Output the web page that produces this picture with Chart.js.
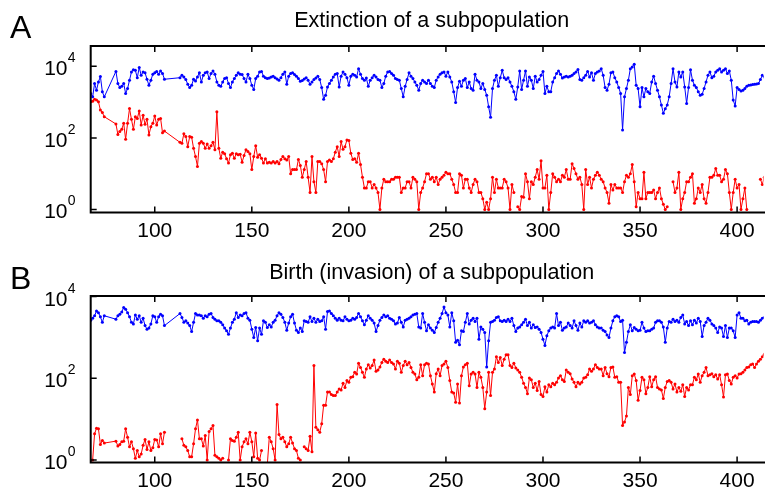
<!DOCTYPE html>
<html lang="en">
<head>
<meta charset="UTF-8">
<title>Extinction and birth of a subpopulation</title>
<style>
  body { margin: 0; background: #fff; }
  #page { position: relative; width: 765px; height: 491px; overflow: hidden;
          font-family: "Liberation Sans", Arial, sans-serif; color: #000; }
  canvas { position: absolute; left: 0; }
  .letter { position: absolute; left: 10px; font-size: 32px; line-height: 1; }
  .title { position: absolute; left: 431.7px; transform: translateX(-50%);
           white-space: nowrap; font-size: 21.5px; line-height: 1; }
</style>
</head>
<body>
<div id="page">
  <canvas id="chartA" width="765" height="245" style="top:0"></canvas>
  <canvas id="chartB" width="765" height="246" style="top:245px"></canvas>
  <div class="letter" style="top:11px">A</div>
  <div class="title" style="top:10px">Extinction of a subpopulation</div>
  <div class="letter" style="top:262px">B</div>
  <div class="title" style="top:262px">Birth (invasion) of a subpopulation</div>
</div>

<script src="https://cdn.jsdelivr.net/npm/chart.js"></script>
<script>
// sampled times come in three runs: 67-74, 80-105, 113-414
const segStart = [67, 80, 113];
const xTicks = [100, 150, 200, 250, 300, 350, 400];
const yTicks = [1, 100, 10000];

// A: extinction -- blue = total, red = subpopulation (null = zero, not drawn on log axis)
const extTotal = [
  [1750, 1400, 3300, 2150, 3650, 5200, 1950, 1400],
  [7200, 3300, 2550, 2750, 3300, 1750, 2400, 4100, 6950, 8000, 7700, 4800, 9300, 5600, 6950, 6600,
   4350, 2950, 4100, 6000, 6650, 7200, 6000, 7400, 6300, 4350],
  [4800, 5600, 5050, 4250, 3150, 2550, 2950, 4350, 3900, 5050,
   6600, 3650, 5600, 6600, 6950, 4550, 6300, 7400, 6000, 3650,
   2950, 2750, 3650, 4550, 4800, 3300, 2550, 3650, 4550, 5600,
   6600, 6000, 5900, 4550, 3650, 6000, 4550, 2950, 2250, 4550,
   5300, 6950, 7200, 5300, 4800, 4550, 4700, 5050, 5300, 4800,
   4450, 4100, 4800, 6000, 6950, 3150, 5300, 6300, 6600, 5900,
   5300, 4550, 3800, 4000, 4450, 4800, 4100, 3150, 3650, 4250,
   4700, 5300, 4250, 2550, 1200, 1550, 2650, 3300, 4100, 5050,
   6000, 6300, 2650, 5300, 6950, 6000, 4800, 2950, 5300, 6000,
   5600, 5050, 8600, 6000, 4550, 4100, 4700, 2750, 4100, 4800,
   5600, 5050, 4250, 4100, 2550, 3300, 5300, 6950, 7200, 6300,
   5600, 4550, 4250, 4100, 2400, 1400, 2750, 4250, 6600, 5300,
   4550, 3650, 2950, 2150, 3300, 4100, 3650, 3300, 4100, 3300,
   2750, 2550, 4100, 5050, 6000, 6600, 6950, 5300, 6950, 5050,
   3650, 1950, 980, 2550, 3800, 2750, 4100, 4550, 2550, 3650,
   2400, 2150, 6000, 4100, 3650, 2400, 3300, 2250, 1550, 740,
   375, 2400, 4100, 5600, 2750, 4800, 7700, 4800, 4250, 4800,
   3650, 2750, 1950, 1200, 2650, 7400, 2250, 4100, 7400, 2750,
   5050, 4100, 2400, 5300, 3650, 4250, 5600, 7200, 1750, 2750,
   1950, 1950, 3650, 4800, 6300, 7400, 6000, 4700, 5050, 5300,
   5050, 5300, 5600, 6300, 6950, 8200, 4250, 4100, 4800, 5600,
   7200, 5050, 6600, 4100, 6300, 6950, 7400, 8600, 5600, 2550,
   2150, 3150, 6600, 6950, 4800, 3650, 2550, 1750, 167, 1400,
   2400, 4100, 8600, 9600, 11500, 2950, 2400, 740, 2550, 1400,
   2400, 1950, 1750, 3650, 5300, 3300, 2150, 1400, 830, 490,
   650, 830, 1400, 3300, 8600, 3650, 2650, 6950, 5050, 6950,
   2650, 920, 2550, 8000, 4100, 2950, 2550, 1950, 1550, 1650,
   2400, 3650, 5600, 6950, 4800, 5300, 6950, 7700, 8600, 6950,
   7700, 8600, 6300, 7400, 4100, 1140, 780, 2550, 2250, 2050,
   2150, 2400, 2750, 2950, 3000, 3100, 3150, 3200, 3300, 4250,
   5600, 5050]
];
const extSub = [
  [1020, 1050, 1200, 1140, 1020, 600, 510, 390],
  [245, 125, 150, 174, 256, 92, 256, 660, 330, 174, 390, 350, 560, 230, 430, 240,
   330, 121, 205, 256, 410, 230, 330, 350, 140, 155],
  [75, 71, 130, 109, 57, 109, 105, 51, 30, 16,
   71, 79, 71, 51, 68, 51, 60, 75, 47, 540,
   51, 27, 40, 36, 26, 20, 34, 37, 27, 36,
   34, 35, 21, 32, 47, 42, 36, 13, 30, 60,
   29, 34, 27, 20, 26, 20, 21, 20, 22, 20,
   22, 19, 25, 30, 26, 24, 30, 10, 13, 13,
   13, 25, 17, 8, 13, 22, 8, 3, 30, 6,
   3, 22, 22, 19, 13, 6, 22, 24, 22, 26,
   40, 57, 30, 79, 48, 57, 88, 84, 37, 25,
   26, 21, 37, 18, 8, 4, 4, 6, 6, 4,
   5, 4, 3, 1, 4, 7, 6, 6, 6, 7,
   7, 8, 8, 8, 3, 4, 4, 6, 6, 4,
   8, 7, 6, 1, 3, 4, 6, 10, 10, 7,
   8, 6, 8, 5, 7, 8, 9, 11, 10, 10,
   7, 5, 3, 3, 10, 9, 4, 7, 7, 4,
   3, 5, 7, 6, 3, 3, 2, 1, 1.6, 1,
   2, 8, 3, 7, 4, 4, 4, 7, 6, 4,
   1, 5, 3, null, 1.2, 1, 2.3, 2.2, 10, 6,
   2, 6, 5, 8, 13, 7, 23, 4, 4, 9,
   1, 3, 10, 8, 6, 7, 6, 9, 8, 13,
   7, 7, 19, 14, 10, 7, 8, 5, 1, 13,
   5, 8, 4, 7, 9, 11, 9, 7, 6, 4,
   3, 1.5, 5, 3.5, 5, 4, 4, 4, 3, 6,
   9, 8, 10, 18, 6, 1.2, 3, 2, 2, 11,
   2, 3, 3, 3, 3.5, 2, 3, 4, 2, 1.4,
   1, 1.2, null, null, 6, 3, 4, 11, 1, 2,
   3, 6, 6, 8, 10, 1.5, 2, 4, 3, 5,
   2, 1.5, 3, 8, 8, 9, 14, 9, 9, 6,
   7, 13, 10, 3, 1, 3, 7, 4, 5, 1,
   2, 4, 1, null, null, null, null, null, null, 7,
   5, 8]
];

// B: birth (invasion)
const birthTotal = [
  [2650, 2950, 3400, 4450, 4050, 3200, 2350, 3400],
  [2800, 3400, 3700, 4200, 5400, 4900, 4050, 3200, 2350, 2150, 3550, 2800, 3400, 2350, 2950, 1950,
   1600, 1700, 2150, 3400, 3200, 2350, 3200, 3700, 3400, 1950],
  [3850, 3100, 2350, 2550, 2250, 1950, 1400, 2350, 3850, 3550,
   3550, 3400, 2950, 3400, 3200, 3700, 3850, 3100, 2800, 2550,
   2550, 2350, 2050, 1700, 1450, 1200, 1700, 2350, 2800, 4050,
   3100, 3550, 3400, 3850, 4050, 2950, 2650, 1600, 1000, 1750,
   830, 1700, 1200, 2550, 2350, 1750, 2050, 1800, 2350, 2650,
   3400, 4050, 3700, 3100, 2350, 1500, 2250, 3200, 3700, 2250,
   1500, 1330, 1700, 1400, 2550, 2450, 2350, 3200, 2450, 2950,
   2350, 2800, 2450, 2550, 3200, 1600, 4300, 4450, 3850, 3400,
   2950, 2650, 2950, 2650, 2550, 3200, 2800, 2550, 2650, 2950,
   2800, 3100, 3850, 3200, 2550, 2050, 2650, 3400, 2950, 2650,
   2250, 1400, 1950, 2650, 3100, 3550, 3200, 3400, 2950, 2800,
   2550, 2150, 2250, 3100, 2350, 1800, 2650, 2800, 2950, 3200,
   3550, 3700, 3850, 1800, 1700, 3850, 2350, 1450, 2050, 1700,
   1500, 1330, 1750, 2350, 2950, 3850, 5600, 4050, 3550, 1800,
   4050, 2550, 760, 860, 660, 1450, 1400, 2350, 3850, 2150,
   2650, 2950, 2450, 2950, 910, 1800, 1600, 1330, 190, 830,
   2350, 2450, 2650, 3100, 3200, 2550, 2450, 2650, 2450, 2800,
   2450, 2950, 1950, 1400, 1700, 1800, 2050, 2350, 2800, 1950,
   2350, 1700, 2050, 1750, 1800, 1600, 1330, 910, 640, 1100,
   1450, 1700, 1800, 1700, 3850, 1950, 2350, 1500, 1700, 1800,
   2250, 1950, 1700, 2550, 1950, 1500, 2250, 1800, 2550, 2350,
   2550, 2250, 2350, 2550, 2050, 1800, 1700, 1700, 1500, 1400,
   1150, 1000, 1700, 2550, 3200, 3400, 3200, 2450, 2650, 430,
   760, 1400, 2050, 1450, 1750, 1600, 1450, 1500, 2350, 1700,
   1400, 1450, 1450, 1600, 1700, 2350, 2550, 2550, 2350, 1800,
   760, 1700, 2450, 2350, 2800, 2450, 2650, 2350, 3100, 3550,
   2150, 2450, 1950, 2550, 2050, 2650, 2250, 2950, 2450, 1050,
   1950, 2350, 2950, 2650, 2150, 1950, 1700, 1330, 1800, 1700,
   1050, 1950, 1000, 1700, 1700, 1450, 1000, 3550, 4050, 2950,
   2950, 2550, 2650, 2150, 2350, 2450, 2450, 2450, 2350, 2650,
   2950, 3100]
];
const birthSub = [
  [1, 1, 4.4, 6, 5.8, 2.4, 3, 2.6],
  [2.9, 2.2, 2.4, 2.8, 2.9, 5.8, 3.6, 2.1, 2.8, 1.9, 1.1, 1.7, 1.2, 1.4, 2.3, 3.2,
   1.8, 2.8, 1.7, 2, 3.2, 3.1, 2.1, 4.4, 2.5, 4.8],
  [null, 3.3, 2.3, 2.1, 1.7, 1.2, 1.2, 2.5, 5.8, 9.6,
   3.3, 3.3, 2.2, 4, 1, 5, 5.8, 7, 1.3, 1.2,
   1.1, 1, 1.1, null, null, 1, 3.3, 3, 2.9, 3.6,
   4.8, 1, 2.1, 2.8, 3.3, 2.5, 4.8, 2.8, 1.2, 4.6,
   1.1, 1, 1.7, null, null, 0.8, 3.6, 2.8, 1.9, 1,
   23, 4.2, 3.3, 3.6, 2.8, 2.1, 2.5, 3.6, 2.6, 1.9,
   1.7, 1.1, 1, null, 2.1, 1.9, 1.7, 3.8, 1.6, 205,
   6.3, 5.5, 4.8, 7.7, 22, 22, 46, 46, 40, 38,
   38, 46, 55, 52, 76, 60, 88, 80, 106, 110,
   140, 128, 235, 185, 140, 106, 170, 215, 180, 205,
   280, 150, 160, 190, 245, 295, 260, 245, 280, 245,
   225, 170, 260, 235, 140, 205, 260, 215, 245, 185,
   140, 128, 92, 106, 215, 116, 215, 235, 225, 116,
   73, 46, 130, 170, 116, 205, 225, 260, 185, 88,
   46, 44, 26, 73, 25, 116, 190, 215, 235, 66,
   128, 140, 128, 60, 140, 106, 60, 18, 46, 140,
   38, 140, 170, 335, 245, 325, 205, 295, 375, 375,
   205, 185, 235, 180, 160, 140, 106, 76, 60, 42,
   102, 92, 60, 76, 50, 84, 40, 36, 62, 46,
   70, 62, 76, 70, 80, 102, 116, 92, 84, 160,
   140, 130, 96, 80, 62, 80, 73, 80, 102, 106,
   122, 170, 150, 170, 215, 185, 170, 170, 116, 185,
   130, 110, 185, 190, 106, 110, 80, 80, 7, 8.5,
   12, 60, 40, 116, 128, 88, 29, 50, 106, 92,
   42, 60, 110, 62, 92, 110, 60, 55, 52, 32,
   60, 84, 88, 80, 55, 73, 46, 60, 48, 70,
   36, 60, 52, 70, 70, 106, 92, 128, 80, 116,
   140, 185, 116, 122, 130, 110, 122, 96, 122, 70,
   35, 122, 128, 88, 73, 106, 116, 102, 128, 130,
   140, 160, 185, 190, 215, 225, 185, 225, 260, 295,
   335, 390]
];

const FONT = '"Liberation Sans", Arial, sans-serif';

function points(segs) {
  const out = [];
  segs.forEach((seg, s) => {
    seg.forEach((v, i) => out.push({ x: segStart[s] + i, y: v }));
  });
  return out;
}

function series(segs, color) {
  return {
    data: points(segs),
    borderColor: color,
    backgroundColor: color,
    borderWidth: 1,
    pointRadius: 1.5,
    pointBorderWidth: 0,
    pointHoverRadius: 1.5,
    tension: 0,
    fill: false
  };
}

// box, inward ticks and 10^n labels, matlab style
const frame = {
  id: 'frame',
  afterDraw(chart) {
    const ctx = chart.ctx, a = chart.chartArea;
    const sx = chart.scales.x, sy = chart.scales.y;
    ctx.save();
    ctx.strokeStyle = '#000';
    ctx.lineWidth = 2;
    ctx.beginPath();
    ctx.moveTo(a.right + 2, a.top);
    ctx.lineTo(a.left, a.top);
    ctx.lineTo(a.left, a.bottom);
    ctx.lineTo(a.right + 2, a.bottom);
    ctx.stroke();

    ctx.lineWidth = 1.5;
    ctx.beginPath();
    xTicks.forEach(v => {
      const px = sx.getPixelForValue(v);
      ctx.moveTo(px, a.top); ctx.lineTo(px, a.top + 6);
      ctx.moveTo(px, a.bottom); ctx.lineTo(px, a.bottom - 6);
    });
    yTicks.forEach(v => {
      const py = sy.getPixelForValue(v);
      ctx.moveTo(a.left, py); ctx.lineTo(a.left + 6, py);
    });
    ctx.stroke();

    ctx.fillStyle = '#000';
    ctx.textBaseline = 'alphabetic';
    yTicks.forEach(v => {
      const py = sy.getPixelForValue(v);
      ctx.font = '21px ' + FONT;
      ctx.textAlign = 'right';
      ctx.fillText('10', 67.5, py + 9);
      ctx.font = '14px ' + FONT;
      ctx.textAlign = 'left';
      ctx.fillText(String(Math.round(Math.log10(v))), 67.8, py - 4);
    });
    ctx.restore();
  }
};

function makeChart(id, sub, total, padTop, axisH, ymin, ymax) {
  return new Chart(document.getElementById(id), {
    type: 'line',
    data: { datasets: [series(sub, '#ff0000'), series(total, '#0000ff')] },
    options: {
      responsive: false,
      animation: false,
      events: [],
      layout: { padding: { top: padTop, left: 0, right: 0, bottom: 0 } },
      plugins: { legend: { display: false }, tooltip: { enabled: false } },
      scales: {
        x: {
          type: 'linear', min: 67, max: 413.6,
          grid: { display: false, drawTicks: false },
          border: { display: false },
          afterBuildTicks: s => { s.ticks = xTicks.map(v => ({ value: v })); },
          afterFit: s => { s.height = axisH; },
          ticks: { color: '#000', font: { family: FONT, size: 21 }, padding: 6,
                   maxRotation: 0, autoSkip: false }
        },
        y: {
          type: 'logarithmic', min: ymin, max: ymax,
          grid: { display: false, drawTicks: false },
          border: { display: false },
          ticks: { display: false },
          afterBuildTicks: s => { s.ticks = yTicks.map(v => ({ value: v })); },
          afterFit: s => { s.width = 90.7; }
        }
      }
    },
    plugins: [frame]
  });
}

makeChart('chartA', extSub, extTotal, 46, 32.5, 0.824, 36900);
makeChart('chartB', birthSub, birthTotal, 51, 28.5, 0.87, 10350);
</script>
</body>
</html>
